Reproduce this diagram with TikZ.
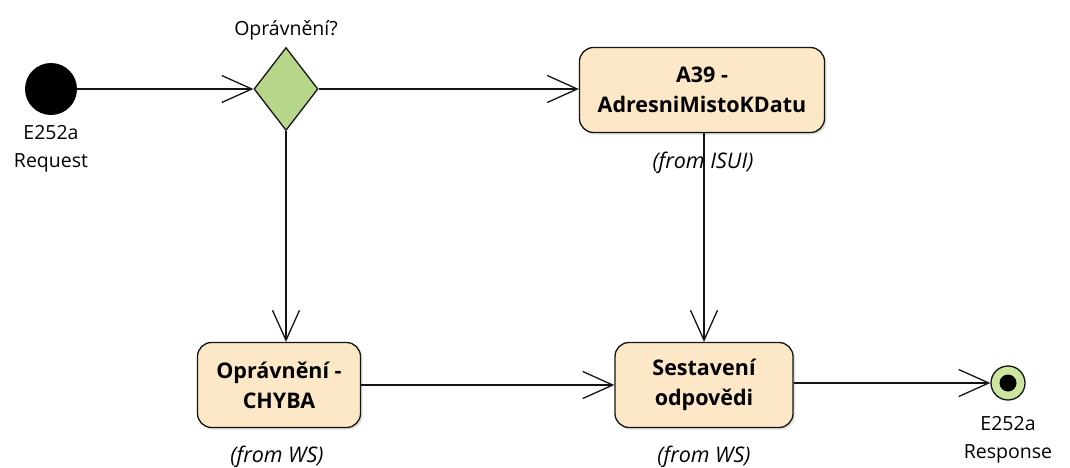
\documentclass[tikz,border=0pt]{standalone}
\usepackage{fontspec}
\setmainfont{Open Sans}
\usetikzlibrary{arrows.meta,shapes.geometric,shadows}
\definecolor{boxfill}{RGB}{252,232,199}
\definecolor{diafill}{RGB}{184,214,138}
\definecolor{endfill}{RGB}{204,230,160}
\definecolor{edge}{RGB}{20,20,20}
\tikzset{
  flow/.style={draw=edge, line width=1.3pt, -{Straight Barb[length=30pt,width=27pt,line width=1.3pt]}},
  action/.style={draw=edge, line width=1.3pt, fill=boxfill, rounded corners=14pt,
    minimum height=85pt, align=center, font=\fontsize{21.5}{30}\selectfont\bfseries,
    drop shadow={shadow xshift=2pt, shadow yshift=-2pt, opacity=0.25}},
  lbl/.style={font=\fontsize{19.5}{28}\selectfont, align=center},
  from/.style={font=\fontsize{21.5}{26}\selectfont\itshape},
}
\begin{document}
\begin{tikzpicture}[x=1pt,y=-1pt]
\useasboundingbox (0,0) rectangle (1070,468);
% start
\node[circle, fill=black, minimum size=52pt, inner sep=0pt] (start) at (51,89) {};
\node[lbl] (startlbl) at (51,149) {E252a\\Request};
% decision
\node[diamond, draw=edge, line width=1.3pt, fill=diafill, minimum width=64pt, minimum height=83pt, inner sep=0pt, aspect=0.77] (dec) at (286,89) {};
\node[lbl] (declbl) at (286,30) {Oprávnění?};
% A39
\node[action, minimum width=245pt] (a39) at (702,90) {A39 -\\AdresniMistoKDatu};
\node[from] (a39from) at (703,163) {(from ISUI)};
% chyba
\node[action, minimum width=163pt] (chyba) at (279,385) {Oprávnění -\\CHYBA};
\node[from] (chybafrom) at (277,457) {(from WS)};
% sestaveni
\node[action, minimum width=178pt] (sest) at (704,385) {Sestavení\\odpovědi};
\node[from] (sestfrom) at (704,457) {(from WS)};
% final
\node[circle, draw=edge, line width=1.3pt, fill=endfill, minimum size=34pt, inner sep=0pt] (fin) at (1008,383) {};
\node[circle, fill=black, minimum size=17pt, inner sep=0pt] (fininner) at (fin.center) {};
\node[lbl] (finlbl) at (1008,440) {E252a\\Response};
% edges
\draw[flow] (start.east) -- (dec.west);
\draw[flow] (dec.east) -- (a39.west |- dec.east);
\draw[flow] (dec.south) -- (chyba.north -| dec.south);
\draw[flow] (a39.south -| 704,0) -- (sest.north);
\draw[flow] (chyba.east) -- (sest.west);
\draw[flow] (sest.east |- fin.west) -- (fin.west);
\end{tikzpicture}
\end{document}
